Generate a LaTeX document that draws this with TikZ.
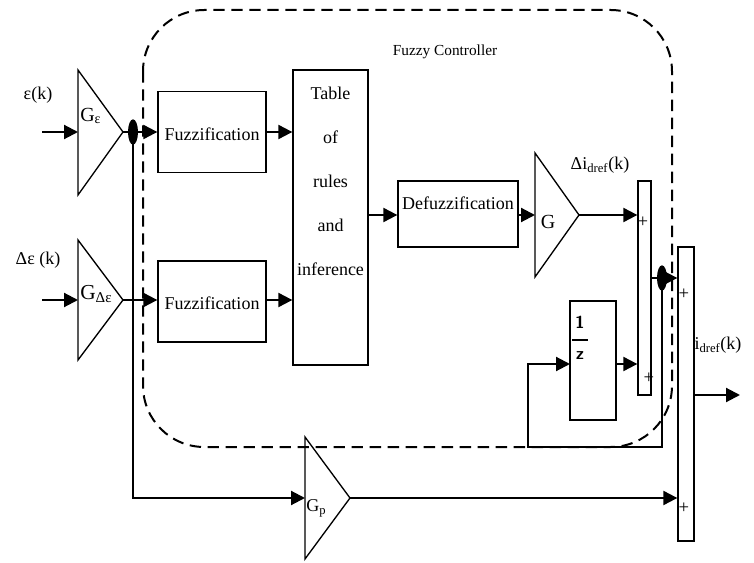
\documentclass[tikz,border=0pt]{standalone}
\usepackage{fontspec}
\setmainfont{Liberation Serif}
\usetikzlibrary{arrows.meta,shapes.geometric}

\tikzset{
  blk/.style={draw, line width=1pt, inner sep=0pt},
  amp/.style={line width=1pt, line join=miter},
  sig/.style={line width=1.6pt, -{Triangle[length=10.5pt,width=10.5pt]}},
  tap/.style={ellipse, fill, inner sep=0pt, minimum width=7.5pt, minimum height=19pt},
  lbl/.style={font=\rmfamily\fontsize{13.5}{16}\selectfont, inner sep=0pt},
  plus/.style={font=\rmfamily\fontsize{14}{16}\selectfont, inner sep=0pt},
}

\begin{document}
\begin{tikzpicture}[x=0.75pt, y=-0.75pt]
\useasboundingbox (0,0) rectangle (754,563);

\draw[line width=1.5pt, dash pattern=on 8.5pt off 5pt, rounded corners=46pt] (143,10) rectangle (672,447);
\node (fc) [font=\rmfamily\fontsize{11.5}{13}\selectfont] at (445,52) {Fuzzy Controller};

% gains
\draw[amp] (78,70) -- (123,132) -- (78,195) -- cycle;
\coordinate (ge in) at (78,132);
\coordinate (ge out) at (123,132);
\node (ge) [lbl, anchor=west] at (80,116) {\fontsize{15}{17}\selectfont G\textsubscript{ε}};

\draw[amp] (78,240) -- (123,300) -- (78,360) -- cycle;
\coordinate (gd in) at (78,300);
\coordinate (gd out) at (123,300);
\node (gd) [lbl, anchor=west] at (80,294) {\fontsize{16}{18}\selectfont G\textsubscript{Δε}};

\draw[amp] (535,153) -- (579,215) -- (535,277) -- cycle;
\coordinate (g in) at (535,215);
\coordinate (g out) at (579,215);
\node (g) [lbl] at (548,222) {\fontsize{15}{17}\selectfont G};

\draw[amp] (305,437) -- (350,498) -- (305,559) -- cycle;
\coordinate (gp in) at (305,498);
\coordinate (gp out) at (350,498);
\node (gp) [lbl, anchor=west] at (306,508) {G\textsubscript{p}};

% blocks
\node (fz1) [blk, minimum width=81pt, minimum height=60.75pt] at (212,132) {};
\node (fz1 txt) [lbl] at (212,134) {Fuzzification};
\node (fz2) [blk, minimum width=81pt, minimum height=60.75pt] at (212,301.5) {};
\node (fz2 txt) [lbl] at (212,303) {Fuzzification};
\node (rules) [blk, minimum width=56.25pt, minimum height=221.25pt] at (330.5,217.5) {};
\node (rules txt) [align=center, font=\rmfamily\fontsize{13.5}{33}\selectfont] at (330.5,181) {Table\\of\\rules\\and\\inference};
\node (defuzz) [blk, minimum width=90pt, minimum height=49.5pt] at (458,214) {};
\node (defuzz txt) [lbl] at (458,203) {Defuzzification};
\node (delay) [blk, minimum width=34.5pt, minimum height=89.25pt] at (593,360.5) {};
\node (delay num) [font=\sffamily\bfseries\fontsize{13}{15}\selectfont, inner sep=0pt] at (580,322) {1};
\draw[line width=1pt] (572,340) -- (588,340);
\node (delay den) [font=\sffamily\bfseries\fontsize{13}{15}\selectfont, inner sep=0pt] at (580,356) {z};
\node (ssum) [blk, minimum width=9.75pt, minimum height=160.5pt] at (644.5,288) {};
\node (bsum) [blk, minimum width=12pt, minimum height=220.5pt] at (686,394) {};
\node (p1) [plus] at (643,222) {+};
\node (p2) [plus] at (649,378) {+};
\node (p3) [plus] at (684,294) {+};
\node (p4) [plus] at (684,508) {+};

% labels
\node (e) [lbl] at (38,95) {ε(k)};
\node (de) [lbl] at (38,260) {Δε (k)};
\node (di) [lbl] at (600,165) {Δi\textsubscript{dref}(k)};
\node (io) [lbl] at (718,345) {i\textsubscript{dref}(k)};

\coordinate (e in) at (42,132);
\coordinate (de in) at (42,300);
\coordinate (z in) at (570,364);
\coordinate (fb) at (528,447);
\coordinate (out) at (740,395);

% signals
\draw[sig] (e in) -- (ge in);
\draw[sig] (de in) -- (gd in);
\draw[sig] (ge out) -- (fz1.west);
\draw[sig] (gd out) -- (fz2.west |- gd out);
\draw[sig] (133,132) |- (gp in);
\draw[sig] (fz1.east) -- (rules.west |- fz1.east);
\draw[sig] (fz2.east |- gd out) -- (rules.west |- gd out);
\draw[sig] (rules.east |- g in) -- (defuzz.west |- g in);
\draw[sig] (defuzz.east |- g in) -- (g in);
\draw[sig] (g out) -- (ssum.west |- g out);
\draw[sig] (ssum.east |- 662,278) -- (bsum.west |- 662,278);
\draw[sig] (662,278) |- (fb) |- (z in);
\draw[sig] (delay.east |- z in) -- (ssum.west |- z in);
\draw[sig] (gp out) -- (bsum.west |- gp out);
\draw[sig] (bsum.east |- out) -- (out);
\node (tap1) [tap] at (133,132) {};
\node (tap2) [tap] at (662,278) {};

\end{tikzpicture}
\end{document}
